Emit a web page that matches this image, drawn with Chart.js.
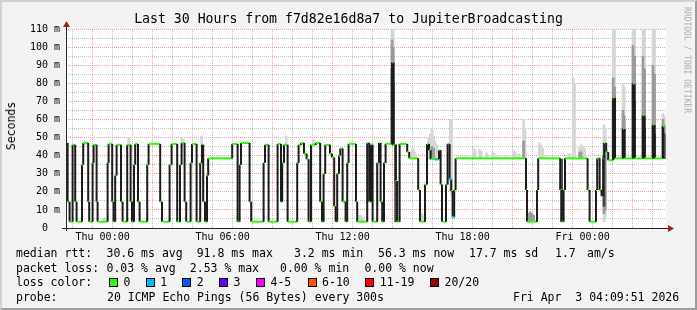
<!DOCTYPE html>
<html>
<head>
<meta charset="utf-8">
<script src="https://cdn.jsdelivr.net/npm/chart.js@4.4.1/dist/chart.umd.min.js"></script>
<style>
  html, body { margin: 0; padding: 0; background: #f3f3f3; }
  #wrap { position: relative; width: 697px; height: 310px; overflow: hidden; background: #f3f3f3;
          font-family: "DejaVu Sans Mono", monospace; color: #000; }
  #frame { position: absolute; left: 0; top: 0; width: 697px; height: 310px; box-sizing: border-box;
           border-top: 2px solid #d2d2d2; border-left: 2px solid #d2d2d2;
           border-right: 2px solid #9c9c9c; border-bottom: 2px solid #9c9c9c; pointer-events: none; }
  canvas { position: absolute; left: 0; top: 0; }
  .t { position: absolute; white-space: pre; }
  #title { left: 0; width: 697px; top: 10px; text-align: center; font-size: 13.2px; line-height: 18px; }
  #ylabel { left: 11px; top: 126px; font-size: 11.5px; transform: translate(-50%, -50%) rotate(-90deg); }
  #mark { left: 687px; top: 60px; font-size: 8px; color: #ababab; transform: translate(-50%, -50%) rotate(90deg); }
  .leg { font-size: 11.5px; line-height: 14px; }
  .box { position: absolute; width: 7px; height: 7px; border: 1px solid #000; }
</style>
</head>
<body>
<div id="wrap">
  <canvas id="chart" width="697" height="310"></canvas>
  <div class="t" id="title">Last 30 Hours from f7d82e16d8a7 to JupiterBroadcasting</div>
  <div class="t" id="ylabel">Seconds</div>
  <div class="t" id="mark">RRDTOOL / TOBI OETIKER</div>
  <div id="legend"></div>
  <div id="frame"></div>
</div>
<script>
/* ================= DATA ================= */
// hours relative to Thu 00:00
const xMin = -1.83;
const xMax = 28.17;
const xGridHours = [-1, 0, 1, 2, 3, 4, 5, 6, 7, 8, 9, 10, 11, 12, 13, 14, 15, 16, 17, 18,
  19, 20, 21, 22, 23, 24, 25, 26, 27, 28];
const xLabelHours = [0, 6, 12, 18, 24];
const xLabels = ["Thu 00:00", "Thu 06:00", "Thu 12:00", "Thu 18:00", "Fri 00:00"];

const yGridValues = [0, 5, 10, 15, 20, 25, 30, 35, 40, 45, 50, 55, 60, 65, 70, 75, 80, 85,
  90, 95, 100, 105, 110];
const yTickValues = [0, 10, 20, 30, 40, 50, 60, 70, 80, 90, 100, 110];
const yTickLabels = ["0  ", "10 m", "20 m", "30 m", "40 m", "50 m", "60 m", "70 m", "80 m",
  "90 m", "100 m", "110 m"];

// median rtt (ms): each run starts at runHours[i] and holds runValues[i]
const runHours = [
  -1.83, -1.75, -1.65, -1.5, -1.37, -1.3, -1.03, -0.97, -0.72, -0.67, -0.5, -0.45, -0.3, -0.25,
  0.25, 0.3, 0.48, 0.55, 0.63, 0.7, 0.92, 1.0, 1.23, 1.4, 1.47, 1.57, 1.63, 1.77, 1.85,
  2.23, 2.3, 2.88, 2.97, 3.35, 3.45, 3.73, 3.87, 3.95, 4.1, 4.18, 4.4, 4.47, 4.7, 4.88,
  4.97, 5.03, 5.12, 5.22, 5.28, 6.48, 6.75, 6.85, 6.92, 7.35, 7.43, 8.05, 8.12, 8.3,
  8.75, 8.92, 8.98, 9.07, 9.25, 9.73, 9.8, 9.93, 10.07, 10.2, 10.3, 10.42, 10.67, 10.88,
  10.97, 11.05, 11.13, 11.37, 11.47, 11.58, 11.65, 11.73, 11.82, 11.88, 12.0, 12.15,
  12.23, 12.3, 12.67, 12.73, 13.23, 13.33, 13.42, 13.5, 13.73, 13.82, 13.9, 13.98, 14.07,
  14.15, 14.47, 14.55, 14.65, 14.73, 14.85, 15.23, 15.33, 15.78, 15.87, 16.12, 16.22,
  16.32, 16.4, 16.82, 16.9, 16.97, 17.17, 17.25, 17.35, 17.43, 17.5, 17.58, 17.65,
  21.17, 21.22, 21.72, 21.78, 22.88, 22.95, 23.05, 23.12, 24.25, 24.35, 24.67, 24.73,
  24.85, 24.95, 25.03, 25.08, 25.18, 25.28, 25.53, 25.62, 26.02, 26.1, 26.52, 26.6,
  27.02, 27.1, 27.52, 27.6, 28.02
];
const runValues = [
  47, 14.5, 3.5, 46, 14.5, 3.5, 35, 47, 14.5, 3.5, 36, 46, 14.5, 3.5,
  36, 46.5, 14.5, 3.5, 29, 46, 14.5, 3.5, 46, 14.5, 3.5, 35, 46.5, 14.5, 3.5,
  35, 46.5, 14.5, 3.5, 35, 46.5, 3.5, 35, 47, 14.5, 3.5, 36, 46.5, 3.5, 36,
  46, 14.5, 3.5, 29, 38.5, 46.5, 3.5, 35, 47, 14.5, 3.5, 36, 46, 3.5,
  46.5, 14.5, 36, 46, 3.5, 36, 46, 47, 41, 38, 3.5, 46, 47, 14.5,
  3.5, 30, 46, 41, 39, 12, 3.5, 30, 40, 44, 14.5, 3.5,
  36, 46.5, 14.5, 3.5, 47, 14.5, 46, 3.5, 36, 47, 14.5, 3.5, 36,
  46.5, 91.5, 46, 26, 3.5, 46.5, 42, 38.5, 21, 3.5, 24, 46.5,
  43, 38, 43, 24, 3.5, 24, 46.5, 27, 20.5, 6, 21, 38.5,
  21, 3.5, 21, 38.5, 21, 3.5, 21, 38.5, 21, 3.5, 21, 38.5,
  21, 17.5, 38.5, 47, 42, 37.5, 72, 38.5, 54.7, 38.5, 79.4, 38.5,
  62, 38.5, 57, 38.5, 56.3
];
const lastRunEnd = 28.1;

// samples with 1/20 loss (blue)
const lossHours = [16.7, 17.39, 17.54];
const lossValues = [38, 27, 6];

// smoke: [hour, low ms, high ms]
const smokeLight = [
  [-0.88, 46, 48], [0.05, 3.5, 5.5], [0.13, 3.5, 5.5], [1.3, 46, 50], [3.97, 46, 50],
  [4.03, 46, 49], [4.95, 46, 51], [9.18, 46, 51], [10.55, 46, 49], [10.62, 46, 48],
  [12.85, 3.5, 7], [12.93, 3.5, 7], [13.02, 3.5, 6], [14.47, 46, 110], [14.53, 46, 110],
  [15.45, 38.5, 43], [15.53, 38.5, 44], [15.62, 38.5, 42], [15.95, 3.5, 8], [16.03, 3.5, 7],
  [16.3, 38, 50], [16.38, 38, 52], [16.47, 38, 55], [16.55, 38, 51], [16.63, 38, 48],
  [16.72, 38, 46], [17.38, 20, 60], [17.45, 18, 60], [18.55, 38.5, 44], [18.63, 38.5, 43],
  [18.85, 38.5, 43.5], [18.93, 38.5, 42.5], [19.2, 38.5, 41.5], [19.5, 38.5, 42],
  [19.58, 38.5, 41.5], [20.55, 38.5, 43], [20.63, 38.5, 42], [20.8, 38.5, 41],
  [21.05, 38.5, 60], [21.12, 38.5, 55], [21.83, 38.5, 47], [21.92, 38.5, 46], [22.0, 38.5, 44],
  [23.3, 38.5, 41], [23.38, 38.5, 41], [23.53, 38.5, 83], [23.6, 38.5, 80],
  [23.85, 38.5, 45], [23.93, 38.5, 46], [24.02, 38.5, 45], [24.1, 38.5, 44],
  [25.07, 3.5, 57], [25.13, 5, 55], [25.53, 38.5, 110], [25.6, 38.5, 110],
  [26.02, 38.5, 80], [26.08, 38.5, 78], [26.52, 38.5, 110], [26.6, 38.5, 110],
  [27.02, 38.5, 110], [27.1, 38.5, 110], [27.52, 38.5, 110], [27.6, 38.5, 110],
  [28.02, 38.5, 63.5], [28.08, 38.5, 62]
];
const smokeMid = [
  [14.47, 46, 104], [14.53, 46, 100], [16.47, 38, 45], [16.55, 38, 44], [21.05, 38.5, 48],
  [21.3, 3.5, 8], [21.38, 3.5, 9], [21.47, 3.5, 8], [21.55, 3.5, 7], [23.85, 38.5, 42],
  [23.93, 38.5, 42], [25.07, 8, 47], [25.13, 10, 42], [25.53, 38.5, 83], [25.6, 38.5, 78],
  [26.02, 38.5, 65], [26.08, 38.5, 62], [26.52, 38.5, 101], [26.6, 38.5, 95],
  [27.02, 38.5, 95], [27.1, 38.5, 88], [27.52, 38.5, 90], [27.6, 38.5, 85],
  [28.02, 38.5, 60], [28.08, 38.5, 57]
];
const smokeDark = [
  [14.47, 46, 88], [14.53, 46, 80], [14.65, 3.5, 46], [22.95, 3.5, 38], [25.07, 12, 40],
  [25.53, 38.5, 70], [25.6, 38.5, 60], [26.02, 38.5, 55], [26.52, 38.5, 80], [26.6, 38.5, 70],
  [27.02, 38.5, 62], [27.1, 38.5, 55], [27.52, 38.5, 57], [27.6, 38.5, 52],
  [28.02, 38.5, 56], [28.08, 38.5, 52]
];

// legend block
const statLines = [
  [[16, "median rtt:"], [106.5, "30.6 ms avg"], [196.7, "91.8 ms max"], [294, "3.2 ms min"],
   [378, "56.3 ms now"], [469, "17.7 ms sd"], [555, "1.7"], [587, "am/s"]],
  [[16, "packet loss:"], [106.5, "0.03 % avg"], [189.8, "2.53 % max"], [280, "0.00 % min"],
   [364.4, "0.00 % now"]],
  [[16, "loss color:"]],
  [[16, "probe:"], [107, "20 ICMP Echo Pings (56 Bytes) every 300s"],
   [513, "Fri Apr  3 04:09:51 2026"]]
];
const lossLabels = ["0", "1", "2", "3", "4-5", "6-10", "11-19", "20/20"];
const lossColors = ["#26ff00", "#00b8ff", "#0059ff", "#5e00ff", "#ff00ff", "#ff5500", "#ff0000", "#a10000"];
const lossBoxX = [109, 145.8, 182.2, 219, 256, 307.6, 365.3, 430];

/* ================= LEGEND (HTML) ================= */
const legendEl = document.getElementById("legend");
const lineTops = [246, 261, 275, 290];
statLines.forEach((line, li) => {
  line.forEach(([x, text]) => {
    const s = document.createElement("div");
    s.className = "t leg";
    s.style.left = x + "px";
    s.style.top = lineTops[li] + "px";
    s.textContent = text;
    legendEl.appendChild(s);
  });
});
lossLabels.forEach((label, i) => {
  const b = document.createElement("div");
  b.className = "box";
  b.style.left = lossBoxX[i] + "px";
  b.style.top = "278px";
  b.style.background = lossColors[i];
  legendEl.appendChild(b);
  const s = document.createElement("div");
  s.className = "t leg";
  s.style.left = (lossBoxX[i] + 14.5) + "px";
  s.style.top = lineTops[2] + "px";
  s.textContent = label;
  legendEl.appendChild(s);
});

/* ================= CHART ================= */
const GREEN = "#26ff00";
const DARK = "#1c1c1c";
const MINOR = "rgba(190,190,190,0.9)";
const MAJOR = "rgba(240,120,120,0.7)";

const medianPoints = [];
runHours.forEach((h, i) => {
  const end = i + 1 < runHours.length ? runHours[i + 1] : lastRunEnd;
  medianPoints.push({ x: h, y: runValues[i] }, { x: end, y: runValues[i] });
});

const toBars = (list) => list.map(([x, lo, hi]) => ({ x: x, y: [lo, hi] }));

const plotFrame = {
  id: "plotFrame",
  beforeDraw(chart) {
    const { ctx, chartArea: a } = chart;
    ctx.save();
    ctx.fillStyle = "#ffffff";
    ctx.fillRect(a.left, a.top, a.right - a.left, a.bottom - a.top);
    ctx.restore();
  },
  afterDatasetsDraw(chart) {
    const { ctx, chartArea: a } = chart;
    ctx.save();
    ctx.strokeStyle = "#2a2a2a";
    ctx.lineWidth = 1;
    ctx.beginPath();
    ctx.moveTo(a.left - 4, a.bottom + 0.5);
    ctx.lineTo(a.right + 3, a.bottom + 0.5);
    ctx.moveTo(a.left + 0.5, a.bottom + 3);
    ctx.lineTo(a.left + 0.5, a.top - 4);
    ctx.stroke();
    ctx.fillStyle = "#a02020";
    ctx.beginPath();
    ctx.moveTo(a.right + 8, a.bottom + 0.5);
    ctx.lineTo(a.right + 2, a.bottom - 3);
    ctx.lineTo(a.right + 2, a.bottom + 4);
    ctx.fill();
    ctx.beginPath();
    ctx.moveTo(a.left + 0.5, a.top - 8);
    ctx.lineTo(a.left - 3, a.top - 2);
    ctx.lineTo(a.left + 4, a.top - 2);
    ctx.fill();
    ctx.restore();
  }
};

const tickFont = { family: "DejaVu Sans Mono", size: 10 };

new Chart(document.getElementById("chart"), {
  type: "line",
  data: {
    datasets: [
      { type: "bar", data: toBars(smokeLight), backgroundColor: "#d6d6d6", barThickness: 2,
        grouped: false, borderWidth: 0, order: 5 },
      { type: "bar", data: toBars(smokeMid), backgroundColor: "#9a9a9a", barThickness: 2,
        grouped: false, borderWidth: 0, order: 4 },
      { type: "bar", data: toBars(smokeDark), backgroundColor: "#454545", barThickness: 2,
        grouped: false, borderWidth: 0, order: 3 },
      {
        data: medianPoints,
        borderWidth: 2,
        pointRadius: 0,
        tension: 0,
        borderCapStyle: "butt",
        borderColor: DARK,
        segment: {
          borderColor: (c) => (c.p0.parsed.y === c.p1.parsed.y ? GREEN : DARK)
        },
        order: 1
      },
      {
        data: lossHours.map((h, i) => ({ x: h, y: lossValues[i] })),
        showLine: false,
        pointStyle: "line",
        pointRadius: 1.2,
        pointBorderWidth: 2.5,
        pointBorderColor: "#00b8ff",
        order: 0
      }
    ]
  },
  options: {
    responsive: false,
    devicePixelRatio: 1,
    animation: false,
    events: [],
    layout: { padding: { left: 0, top: 29, right: 31, bottom: 0 } },
    plugins: { legend: { display: false }, title: { display: false }, tooltip: { enabled: false } },
    scales: {
      x: {
        type: "linear",
        min: xMin,
        max: xMax,
        offset: false,
        afterFit: (s) => { s.height = 82; },
        afterBuildTicks: (s) => { s.ticks = xGridHours.map((v) => ({ value: v })); },
        grid: {
          drawTicks: false,
          color: (c) => (c.tick && c.tick.value % 3 === 0 ? MAJOR : MINOR)
        },
        border: { display: false, dash: [1, 1] },
        ticks: {
          autoSkip: false,
          maxRotation: 0,
          padding: 3,
          color: "#000",
          font: tickFont,
          callback: (v) => {
            const i = xLabelHours.indexOf(v);
            return i >= 0 ? xLabels[i] : "";
          }
        }
      },
      y: {
        min: 0,
        max: 110,
        afterFit: (s) => { s.width = 66; },
        afterBuildTicks: (s) => { s.ticks = yGridValues.map((v) => ({ value: v })); },
        grid: {
          drawTicks: false,
          color: (c) => (c.tick && c.tick.value % 10 === 0 ? MAJOR : MINOR)
        },
        border: { display: false, dash: [1, 1] },
        ticks: {
          autoSkip: false,
          padding: 6,
          color: "#000",
          font: tickFont,
          callback: (v) => {
            const i = yTickValues.indexOf(v);
            return i >= 0 ? yTickLabels[i] : "";
          }
        }
      }
    }
  },
  plugins: [plotFrame]
});
</script>
</body>
</html>
